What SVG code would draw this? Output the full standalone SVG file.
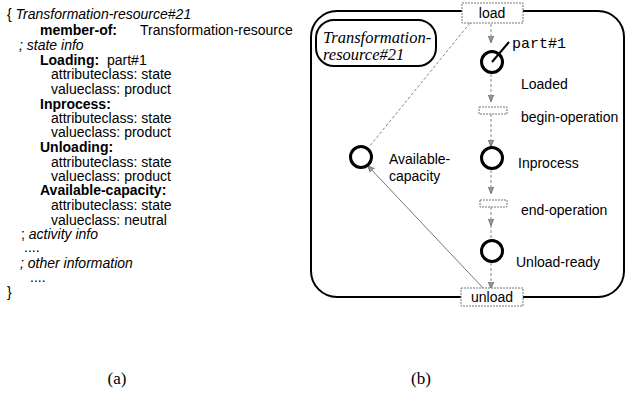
<svg xmlns="http://www.w3.org/2000/svg" width="626" height="394" viewBox="0 0 626 394">
<defs>
<marker id="ah" viewBox="0 0 10 10" refX="9" refY="5" markerWidth="7" markerHeight="7" orient="auto" markerUnits="userSpaceOnUse">
<path d="M0,1 L10,5 L0,9 z" fill="#999" stroke="#555" stroke-width="1"/>
</marker>
</defs>
<style>
.t{font-family:"Liberation Sans",Arial,sans-serif;font-size:14px;fill:#000}
.b{font-weight:bold}
.i{font-style:italic}
.lbl{font-family:"Liberation Sans",Arial,sans-serif;font-size:14px;fill:#000}
.serif{font-family:"Liberation Serif","Times New Roman",serif}
.place{fill:none;stroke:#000;stroke-width:3}
.trans{fill:#fff;stroke:#777;stroke-width:1;stroke-dasharray:2,1}
.conn{stroke:#888;stroke-width:1;fill:none;stroke-dasharray:3,2}
</style>
<g id="frame-text">
<text class="t" x="7" y="19">{ <tspan class="i">Transformation-resource#21</tspan></text>
<text class="t" x="40" y="35"><tspan class="b">member-of:</tspan><tspan x="140">Transformation-resource</tspan></text>
<text class="t i" x="19" y="50">; state info</text>
<text class="t" x="40" y="65"><tspan class="b">Loading:</tspan><tspan x="107">part#1</tspan></text>
<text class="t" x="51" y="79">attributeclass: state</text>
<text class="t" x="51" y="94">valueclass: product</text>
<text class="t b" x="40" y="109">Inprocess:</text>
<text class="t" x="51" y="123">attributeclass: state</text>
<text class="t" x="51" y="137">valueclass: product</text>
<text class="t b" x="40" y="152">Unloading:</text>
<text class="t" x="51" y="167">attributeclass: state</text>
<text class="t" x="51" y="181">valueclass: product</text>
<text class="t b" x="40" y="195">Available-capacity:</text>
<text class="t" x="51" y="210">attributeclass: state</text>
<text class="t" x="51" y="225">valueclass: neutral</text>
<text class="t" x="21" y="239">; <tspan class="i">activity info</tspan></text>
<text class="t" x="24" y="252">....</text>
<text class="t i" x="20" y="268">; other information</text>
<text class="t" x="30" y="282">....</text>
<text class="t" x="7" y="297">}</text>
</g>
<g id="outer-box">
<rect x="311" y="11" width="313" height="286" rx="26" ry="26" fill="none" stroke="#000" stroke-width="2"/>
</g>
<g id="title-box">
<rect x="316" y="20" width="120" height="46" rx="18" ry="18" fill="#fff" stroke="#000" stroke-width="2"/>
<text class="serif i" x="323" y="43" font-size="16.5">Transformation-</text>
<text class="serif i" x="323" y="60" font-size="16.5">resource#21</text>
</g>
<g id="connectors">
<line class="conn" x1="470" y1="23" x2="369" y2="147" stroke-dasharray="1.5,2.5"/>
<line class="conn" x1="491" y1="24" x2="491" y2="42" marker-end="url(#ah)"/>
<line class="conn" x1="491" y1="74" x2="491" y2="101" marker-end="url(#ah)"/>
<line class="conn" x1="491" y1="114" x2="491" y2="146" marker-end="url(#ah)"/>
<line class="conn" x1="491" y1="170" x2="491" y2="193" marker-end="url(#ah)"/>
<line class="conn" x1="491" y1="207" x2="491" y2="225" marker-end="url(#ah)"/>
<line class="conn" x1="491" y1="225" x2="491" y2="239"/>
<line class="conn" x1="491" y1="263" x2="491" y2="288" marker-end="url(#ah)"/>
<line x1="484" y1="289" x2="368" y2="166" stroke="#777" stroke-width="1" marker-end="url(#ah)"/>
</g>
<g id="load">
<rect class="trans" x="462" y="3" width="61" height="20" fill="#fff"/>
<text class="lbl" x="492" y="18" text-anchor="middle">load</text>
</g>
<g id="loaded">
<circle class="place" cx="492" cy="62" r="10.5"/>
<line x1="492" y1="62" x2="509" y2="42" stroke="#000" stroke-width="2"/>
<text x="512" y="48" font-family="'Liberation Mono','Courier New',monospace" font-size="15">part#1</text>
<text class="lbl" x="521" y="89">Loaded</text>
</g>
<g id="begin-operation">
<rect class="trans" x="479" y="107" width="28" height="7"/>
<text class="lbl" x="521" y="122">begin-operation</text>
</g>
<g id="inprocess">
<circle class="place" cx="492" cy="158" r="10.5"/>
<text class="lbl" x="518" y="168">Inprocess</text>
</g>
<g id="available-capacity">
<circle class="place" cx="361" cy="157" r="10.5"/>
<text class="lbl" x="389" y="164">Available-</text>
<text class="lbl" x="389" y="181">capacity</text>
</g>
<g id="end-operation">
<rect class="trans" x="480" y="200" width="27" height="7"/>
<text class="lbl" x="521" y="215">end-operation</text>
</g>
<g id="unload-ready">
<circle class="place" cx="492" cy="251" r="10.5"/>
<text class="lbl" x="516" y="267">Unload-ready</text>
</g>
<g id="unload">
<rect class="trans" x="461" y="288" width="62" height="18" fill="#fff"/>
<text class="lbl" x="492" y="302" text-anchor="middle">unload</text>
</g>
<g id="captions">
<text class="serif" x="117" y="384" font-size="17" text-anchor="middle">(a)</text>
<text class="serif" x="421" y="384" font-size="17" text-anchor="middle">(b)</text>
</g>
</svg>
